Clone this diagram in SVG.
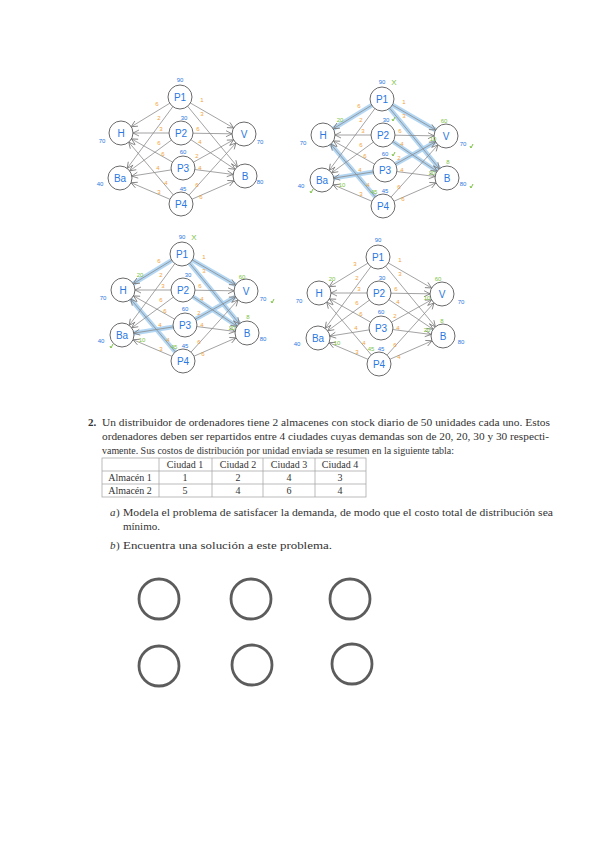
<svg xmlns="http://www.w3.org/2000/svg" width="599" height="848" viewBox="0 0 599 848">
<style>
.node circle{fill:#fff;stroke:#6a6a6a;stroke-width:1}
.node text{font-family:"Liberation Sans",sans-serif;font-size:10px;fill:#2a78e0;text-anchor:middle}
.edge line{stroke:#8c8c8c;stroke-width:0.8;marker-end:url(#ah)}
.hl line{stroke:#a6d0f2;stroke-width:4.5;stroke-linecap:round;opacity:0.85}
.cost{font-family:"Liberation Sans",sans-serif;font-size:6px;fill:#f2a33a;text-anchor:middle}
.qty{font-family:"Liberation Sans",sans-serif;font-size:6px;fill:#2a78e0;text-anchor:middle}
.grn{font-family:"Liberation Sans",sans-serif;font-size:6px;fill:#7cc242;text-anchor:middle}
.tick{stroke:#7cc242;fill:none;stroke-width:1}
.body{font-family:"Liberation Serif",serif;font-size:11px;fill:#333}
.cell{font-family:"Liberation Serif",serif;font-size:10px;fill:#333;text-anchor:middle}
.tbl{stroke:#aaa;stroke-width:0.8;fill:none}
.big circle{fill:none;stroke:#5c5c5c;stroke-width:2.8}
</style>
<defs>
<marker id="ah" markerUnits="userSpaceOnUse" markerWidth="8" markerHeight="6" refX="18" refY="3" orient="auto" overflow="visible">
<path d="M0,0 L6,3 L0,6" fill="none" stroke="#777" stroke-width="0.8"/>
</marker>
</defs>
<rect width="599" height="848" fill="#fff"/>

<!-- Diagram 1 -->
<g id="diagram1" transform="translate(121,133)">
<g id="d1-connectors" class="edge">
<line x1="59" y1="-36" x2="0" y2="0"/><line x1="59" y1="-36" x2="-1" y2="45"/><line x1="59" y1="-36" x2="123" y2="1"/><line x1="59" y1="-36" x2="124" y2="43"/>
<line x1="60" y1="0" x2="0" y2="0"/><line x1="60" y1="0" x2="-1" y2="45"/><line x1="60" y1="0" x2="123" y2="1"/><line x1="60" y1="0" x2="124" y2="43"/>
<line x1="62" y1="35" x2="0" y2="0"/><line x1="62" y1="35" x2="-1" y2="45"/><line x1="62" y1="35" x2="123" y2="1"/><line x1="62" y1="35" x2="124" y2="43"/>
<line x1="60" y1="71" x2="0" y2="0"/><line x1="60" y1="71" x2="-1" y2="45"/><line x1="60" y1="71" x2="123" y2="1"/><line x1="60" y1="71" x2="124" y2="43"/>
</g>
<g id="d1-H" class="node"><circle cx="0" cy="0" r="12"/><text x="0" y="4">H</text></g>
<g id="d1-Ba" class="node"><circle cx="-1" cy="45" r="12"/><text x="-1" y="49">Ba</text></g>
<g id="d1-P1" class="node"><circle cx="59" cy="-36" r="12"/><text x="59" y="-32">P1</text></g>
<g id="d1-P2" class="node"><circle cx="60" cy="0" r="12"/><text x="60" y="4">P2</text></g>
<g id="d1-P3" class="node"><circle cx="62" cy="35" r="12"/><text x="62" y="39">P3</text></g>
<g id="d1-P4" class="node"><circle cx="60" cy="71" r="12"/><text x="60" y="75">P4</text></g>
<g id="d1-V" class="node"><circle cx="123" cy="1" r="12"/><text x="123" y="5">V</text></g>
<g id="d1-B" class="node"><circle cx="124" cy="43" r="12"/><text x="124" y="47">B</text></g>
<g id="d1-costs">
<text class="cost" x="36" y="-27">6</text><text class="cost" x="38" y="-13">2</text><text class="cost" x="40" y="-2">3</text><text class="cost" x="38" y="12">6</text>
<text class="cost" x="42" y="23">6</text><text class="cost" x="37" y="37">4</text><text class="cost" x="45" y="52">4</text><text class="cost" x="38" y="61">3</text>
<text class="cost" x="81" y="-31">1</text><text class="cost" x="81" y="-17">3</text><text class="cost" x="77" y="-2">6</text><text class="cost" x="79" y="11">4</text>
<text class="cost" x="76" y="25">2</text><text class="cost" x="79" y="37">4</text><text class="cost" x="76" y="54">6</text><text class="cost" x="80" y="66">6</text>
</g>
<g id="d1-qty">
<text class="qty" x="59" y="-51">90</text><text class="qty" x="63" y="-13">30</text><text class="qty" x="62" y="21">60</text><text class="qty" x="62" y="58">45</text>
<text class="qty" x="-19" y="10">70</text><text class="qty" x="-21" y="53">40</text><text class="qty" x="139" y="11">70</text><text class="qty" x="139" y="51">80</text>
</g>
</g>

<!-- Diagram 2 -->
<g id="diagram2" transform="translate(323,135)">
<g id="d2-highlights" class="hl">
<line x1="59" y1="-36" x2="0" y2="0"/><line x1="59" y1="-36" x2="123" y2="1"/><line x1="59" y1="-36" x2="124" y2="43"/><line x1="60" y1="0" x2="124" y2="43"/>
<line x1="62" y1="35" x2="-1" y2="45"/><line x1="62" y1="35" x2="123" y2="1"/><line x1="60" y1="71" x2="0" y2="0"/>
</g>
<g id="d2-connectors" class="edge">
<line x1="59" y1="-36" x2="0" y2="0"/><line x1="59" y1="-36" x2="-1" y2="45"/><line x1="59" y1="-36" x2="123" y2="1"/><line x1="59" y1="-36" x2="124" y2="43"/>
<line x1="60" y1="0" x2="0" y2="0"/><line x1="60" y1="0" x2="-1" y2="45"/><line x1="60" y1="0" x2="123" y2="1"/><line x1="60" y1="0" x2="124" y2="43"/>
<line x1="62" y1="35" x2="0" y2="0"/><line x1="62" y1="35" x2="-1" y2="45"/><line x1="62" y1="35" x2="123" y2="1"/><line x1="62" y1="35" x2="124" y2="43"/>
<line x1="60" y1="71" x2="0" y2="0"/><line x1="60" y1="71" x2="-1" y2="45"/><line x1="60" y1="71" x2="123" y2="1"/><line x1="60" y1="71" x2="124" y2="43"/>
</g>
<g id="d2-H" class="node"><circle cx="0" cy="0" r="12"/><text x="0" y="4">H</text></g>
<g id="d2-Ba" class="node"><circle cx="-1" cy="45" r="12"/><text x="-1" y="49">Ba</text></g>
<g id="d2-P1" class="node"><circle cx="59" cy="-36" r="12"/><text x="59" y="-32">P1</text></g>
<g id="d2-P2" class="node"><circle cx="60" cy="0" r="12"/><text x="60" y="4">P2</text></g>
<g id="d2-P3" class="node"><circle cx="62" cy="35" r="12"/><text x="62" y="39">P3</text></g>
<g id="d2-P4" class="node"><circle cx="60" cy="71" r="12"/><text x="60" y="75">P4</text></g>
<g id="d2-V" class="node"><circle cx="123" cy="1" r="12"/><text x="123" y="5">V</text></g>
<g id="d2-B" class="node"><circle cx="124" cy="43" r="12"/><text x="124" y="47">B</text></g>
<g id="d2-costs">
<text class="cost" x="36" y="-27">6</text><text class="cost" x="38" y="-13">2</text><text class="cost" x="40" y="-2">3</text><text class="cost" x="38" y="12">6</text>
<text class="cost" x="42" y="23">6</text><text class="cost" x="37" y="37">4</text><text class="cost" x="45" y="52">4</text><text class="cost" x="38" y="61">3</text>
<text class="cost" x="81" y="-31">1</text><text class="cost" x="81" y="-17">3</text><text class="cost" x="77" y="-2">6</text><text class="cost" x="79" y="11">4</text>
<text class="cost" x="76" y="25">2</text><text class="cost" x="79" y="37">4</text><text class="cost" x="76" y="54">6</text><text class="cost" x="80" y="66">6</text>
</g>
<g id="d2-qty">
<text class="qty" x="59" y="-51">90</text><text class="qty" x="63" y="-13">30</text><text class="qty" x="62" y="21">60</text><text class="qty" x="62" y="58">45</text>
<text class="qty" x="-20" y="10">70</text><text class="qty" x="-22" y="53">40</text><text class="qty" x="140" y="11">70</text><text class="qty" x="140" y="51">80</text>
</g>
<g id="d2-notes">
<text class="grn" x="17" y="-13">20</text><text class="grn" x="19" y="52">10</text><text class="grn" x="51" y="59">45</text>
<text class="grn" x="121" y="-12">60</text><text class="grn" x="110" y="6">10</text><text class="grn" x="125" y="29">8</text><text class="grn" x="109" y="40">20</text>
<text class="grn" x="71" y="-50" style="font-size:8px">X</text>
<path class="tick" d="M69,-16 l1,2 l2,-4"/><path class="tick" d="M69,19 l1,2 l2,-4"/><path class="tick" d="M-13,56 l1,2 l2,-4"/><path class="tick" d="M147,11 l1,2 l2,-4"/><path class="tick" d="M147,51 l1,2 l2,-4"/>
</g>
</g>

<!-- Diagram 3 -->
<g id="diagram3" transform="translate(123,290)">
<g id="d3-highlights" class="hl">
<line x1="59" y1="-36" x2="0" y2="0"/><line x1="59" y1="-36" x2="123" y2="1"/><line x1="59" y1="-36" x2="124" y2="43"/><line x1="60" y1="0" x2="124" y2="43"/>
<line x1="62" y1="35" x2="-1" y2="45"/><line x1="62" y1="35" x2="123" y2="1"/><line x1="60" y1="71" x2="0" y2="0"/>
</g>
<g id="d3-connectors" class="edge">
<line x1="59" y1="-36" x2="0" y2="0"/><line x1="59" y1="-36" x2="-1" y2="45"/><line x1="59" y1="-36" x2="123" y2="1"/><line x1="59" y1="-36" x2="124" y2="43"/>
<line x1="60" y1="0" x2="0" y2="0"/><line x1="60" y1="0" x2="-1" y2="45"/><line x1="60" y1="0" x2="123" y2="1"/><line x1="60" y1="0" x2="124" y2="43"/>
<line x1="62" y1="35" x2="0" y2="0"/><line x1="62" y1="35" x2="-1" y2="45"/><line x1="62" y1="35" x2="123" y2="1"/><line x1="62" y1="35" x2="124" y2="43"/>
<line x1="60" y1="71" x2="0" y2="0"/><line x1="60" y1="71" x2="-1" y2="45"/><line x1="60" y1="71" x2="123" y2="1"/><line x1="60" y1="71" x2="124" y2="43"/>
</g>
<g id="d3-H" class="node"><circle cx="0" cy="0" r="12"/><text x="0" y="4">H</text></g>
<g id="d3-Ba" class="node"><circle cx="-1" cy="45" r="12"/><text x="-1" y="49">Ba</text></g>
<g id="d3-P1" class="node"><circle cx="59" cy="-36" r="12"/><text x="59" y="-32">P1</text></g>
<g id="d3-P2" class="node"><circle cx="60" cy="0" r="12"/><text x="60" y="4">P2</text></g>
<g id="d3-P3" class="node"><circle cx="62" cy="35" r="12"/><text x="62" y="39">P3</text></g>
<g id="d3-P4" class="node"><circle cx="60" cy="71" r="12"/><text x="60" y="75">P4</text></g>
<g id="d3-V" class="node"><circle cx="123" cy="1" r="12"/><text x="123" y="5">V</text></g>
<g id="d3-B" class="node"><circle cx="124" cy="43" r="12"/><text x="124" y="47">B</text></g>
<g id="d3-costs">
<text class="cost" x="36" y="-27">6</text><text class="cost" x="38" y="-13">2</text><text class="cost" x="40" y="-2">3</text><text class="cost" x="38" y="12">6</text>
<text class="cost" x="42" y="23">6</text><text class="cost" x="37" y="37">4</text><text class="cost" x="45" y="52">4</text><text class="cost" x="38" y="61">3</text>
<text class="cost" x="81" y="-31">1</text><text class="cost" x="81" y="-17">3</text><text class="cost" x="77" y="-2">6</text><text class="cost" x="79" y="11">4</text>
<text class="cost" x="76" y="25">2</text><text class="cost" x="79" y="37">4</text><text class="cost" x="76" y="54">6</text><text class="cost" x="80" y="66">6</text>
</g>
<g id="d3-qty">
<text class="qty" x="59" y="-51">90</text><text class="qty" x="65" y="-13">30</text><text class="qty" x="62" y="21">60</text><text class="qty" x="62" y="58">45</text>
<text class="qty" x="-20" y="10">70</text><text class="qty" x="-22" y="53">40</text><text class="qty" x="140" y="11">70</text><text class="qty" x="140" y="51">80</text>
</g>
<g id="d3-notes">
<text class="grn" x="17" y="-13">20</text><text class="grn" x="19" y="52">10</text><text class="grn" x="51" y="59">45</text>
<text class="grn" x="119" y="-11">60</text><text class="grn" x="125" y="29">8</text><text class="grn" x="109" y="40">20</text>
<text class="grn" x="71" y="-50" style="font-size:8px">X</text>
<path class="tick" d="M-13,56 l1,2 l2,-4"/><path class="tick" d="M148,11 l1,2 l2,-4"/>
</g>
</g>

<!-- Diagram 4 -->
<g id="diagram4" transform="translate(319,293)">
<g id="d4-connectors" class="edge">
<line x1="59" y1="-36" x2="0" y2="0"/><line x1="59" y1="-36" x2="-1" y2="45"/><line x1="59" y1="-36" x2="123" y2="1"/><line x1="59" y1="-36" x2="124" y2="43"/>
<line x1="60" y1="0" x2="0" y2="0"/><line x1="60" y1="0" x2="-1" y2="45"/><line x1="60" y1="0" x2="123" y2="1"/><line x1="60" y1="0" x2="124" y2="43"/>
<line x1="62" y1="35" x2="0" y2="0"/><line x1="62" y1="35" x2="-1" y2="45"/><line x1="62" y1="35" x2="123" y2="1"/><line x1="62" y1="35" x2="124" y2="43"/>
<line x1="60" y1="71" x2="0" y2="0"/><line x1="60" y1="71" x2="-1" y2="45"/><line x1="60" y1="71" x2="123" y2="1"/><line x1="60" y1="71" x2="124" y2="43"/>
</g>
<g id="d4-H" class="node"><circle cx="0" cy="0" r="12"/><text x="0" y="4">H</text></g>
<g id="d4-Ba" class="node"><circle cx="-1" cy="45" r="12"/><text x="-1" y="49">Ba</text></g>
<g id="d4-P1" class="node"><circle cx="59" cy="-36" r="12"/><text x="59" y="-32">P1</text></g>
<g id="d4-P2" class="node"><circle cx="60" cy="0" r="12"/><text x="60" y="4">P2</text></g>
<g id="d4-P3" class="node"><circle cx="62" cy="35" r="12"/><text x="62" y="39">P3</text></g>
<g id="d4-P4" class="node"><circle cx="60" cy="71" r="12"/><text x="60" y="75">P4</text></g>
<g id="d4-V" class="node"><circle cx="123" cy="1" r="12"/><text x="123" y="5">V</text></g>
<g id="d4-B" class="node"><circle cx="124" cy="43" r="12"/><text x="124" y="47">B</text></g>
<g id="d4-costs">
<text class="cost" x="36" y="-27">3</text><text class="cost" x="38" y="-13">2</text><text class="cost" x="40" y="-2">3</text><text class="cost" x="38" y="12">6</text>
<text class="cost" x="42" y="23">6</text><text class="cost" x="37" y="37">4</text><text class="cost" x="45" y="52">4</text><text class="cost" x="38" y="61">3</text>
<text class="cost" x="81" y="-31">1</text><text class="cost" x="81" y="-17">3</text><text class="cost" x="77" y="-2">6</text><text class="cost" x="79" y="11">4</text>
<text class="cost" x="76" y="25">2</text><text class="cost" x="79" y="37">4</text><text class="cost" x="76" y="54">6</text><text class="cost" x="80" y="66">4</text>
</g>
<g id="d4-qty">
<text class="qty" x="59" y="-51">90</text><text class="qty" x="63" y="-13">30</text><text class="qty" x="62" y="21">60</text><text class="qty" x="62" y="58">45</text>
<text class="qty" x="-20" y="10">70</text><text class="qty" x="-22" y="53">40</text><text class="qty" x="142" y="11">70</text><text class="qty" x="142" y="51">80</text>
</g>
<g id="d4-notes">
<text class="grn" x="13" y="-12">20</text><text class="grn" x="18" y="52">10</text><text class="grn" x="52" y="58">45</text>
<text class="grn" x="119" y="-12">60</text><text class="grn" x="108" y="7">10</text><text class="grn" x="123" y="30">8</text><text class="grn" x="108" y="39">20</text>
</g>
</g>

<!-- Problem text -->
<g id="problem">
<text class="body" x="88" y="426" font-weight="bold">2.</text>
<text class="body" x="102" y="426" textLength="448" lengthAdjust="spacingAndGlyphs">Un distribuidor de ordenadores tiene 2 almacenes con stock diario de 50 unidades cada uno. Estos</text>
<text class="body" x="102" y="440" textLength="447" lengthAdjust="spacingAndGlyphs">ordenadores deben ser repartidos entre 4 ciudades cuyas demandas son de 20, 20, 30 y 30 respecti-</text>
<text class="body" x="102" y="454" textLength="352" lengthAdjust="spacingAndGlyphs">vamente. Sus costos de distribución por unidad enviada se resumen en la siguiente tabla:</text>
</g>
<g id="table">
<rect class="tbl" x="102" y="458" width="264" height="39"/>
<line class="tbl" x1="102" y1="471" x2="366" y2="471"/>
<line class="tbl" x1="102" y1="484" x2="366" y2="484"/>
<line class="tbl" x1="159" y1="458" x2="159" y2="497"/>
<line class="tbl" x1="212" y1="458" x2="212" y2="497"/>
<line class="tbl" x1="263" y1="458" x2="263" y2="497"/>
<line class="tbl" x1="315" y1="458" x2="315" y2="497"/>
<text class="cell" x="185" y="468">Ciudad 1</text><text class="cell" x="238" y="468">Ciudad 2</text><text class="cell" x="289" y="468">Ciudad 3</text><text class="cell" x="340" y="468">Ciudad 4</text>
<text class="cell" x="130" y="481">Almacén 1</text><text class="cell" x="185" y="481">1</text><text class="cell" x="238" y="481">2</text><text class="cell" x="289" y="481">4</text><text class="cell" x="340" y="481">3</text>
<text class="cell" x="130" y="494">Almacén 2</text><text class="cell" x="185" y="494">5</text><text class="cell" x="238" y="494">4</text><text class="cell" x="289" y="494">6</text><text class="cell" x="340" y="494">4</text>
</g>
<g id="items">
<text class="body" x="110" y="516" font-style="italic">a</text><text class="body" x="116" y="516">)</text>
<text class="body" x="123" y="516" textLength="430" lengthAdjust="spacingAndGlyphs">Modela el problema de satisfacer la demanda, de modo que el costo total de distribución sea</text>
<text class="body" x="123" y="530">mínimo.</text>
<text class="body" x="110" y="549" font-style="italic">b</text><text class="body" x="116" y="549">)</text>
<text class="body" x="123" y="549" textLength="209" lengthAdjust="spacingAndGlyphs">Encuentra una solución a este problema.</text>
</g>

<g id="circles" class="big">
<circle cx="159" cy="599" r="20"/><circle cx="251" cy="599" r="20"/><circle cx="350" cy="599" r="20"/>
<circle cx="159" cy="666" r="20"/><circle cx="252" cy="665" r="20"/><circle cx="352" cy="664" r="20"/>
</g>
</svg>
